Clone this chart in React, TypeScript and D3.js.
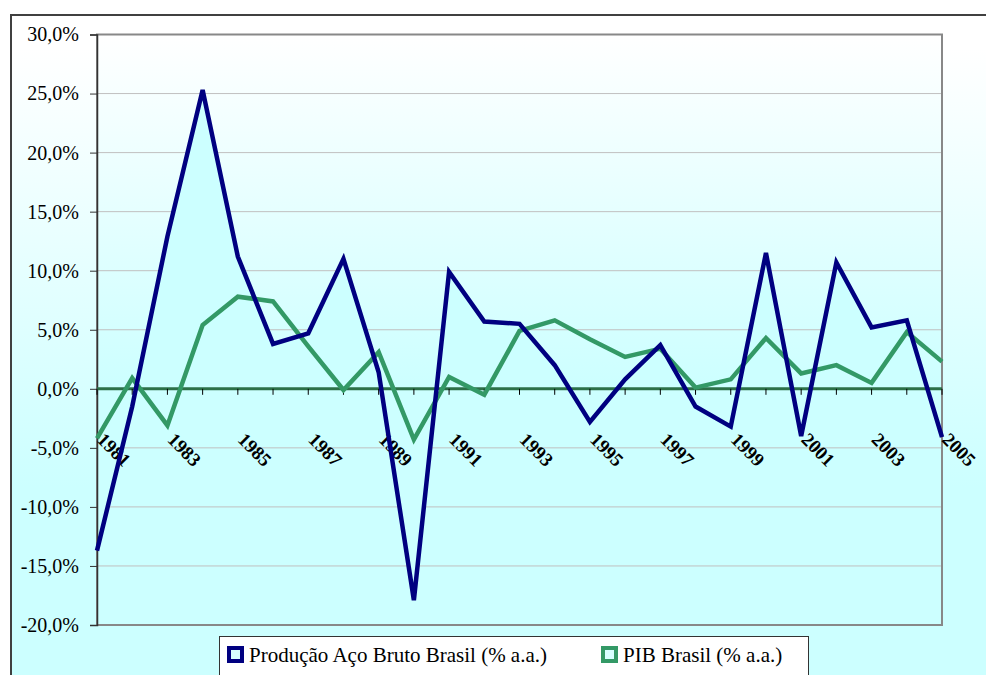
import React, { useEffect, useRef } from "react"
import * as d3 from "d3"

// categories and values
const years = ["1981", "1982", "1983", "1984", "1985", "1986", "1987", "1988", "1989", "1990",
  "1991", "1992", "1993", "1994", "1995", "1996", "1997", "1998", "1999", "2000",
  "2001", "2002", "2003", "2004", "2005"]
const producaoAco = [-13.7, -1.5, 12.9, 25.3, 11.2, 3.8, 4.7, 11.0, 1.4, -17.9,
  9.9, 5.7, 5.5, 2.0, -2.8, 0.8, 3.7, -1.5, -3.2, 11.5,
  -4.0, 10.7, 5.2, 5.8, -4.1]
const pibBrasil = [-4.2, 0.9, -3.1, 5.4, 7.8, 7.4, 3.6, -0.1, 3.1, -4.3,
  1.0, -0.5, 4.9, 5.8, 4.2, 2.7, 3.4, 0.1, 0.8, 4.3,
  1.3, 2.0, 0.5, 4.8, 2.3]
const yTicks = [-20, -15, -10, -5, 0, 5, 10, 15, 20, 25, 30]
const labelledYears = ["1981", "1983", "1985", "1987", "1989", "1991", "1993", "1995",
  "1997", "1999", "2001", "2003", "2005"]
const seriesNames = ["Produção Aço Bruto Brasil (% a.a.)", "PIB Brasil (% a.a.)"]

const width = 986
const height = 675
const plot = { left: 97, right: 942, top: 34.5, bottom: 625 }
const serif = "Liberation Serif, Times New Roman, serif"

const App = () => {
  const svgRef = useRef<SVGSVGElement>(null)

  useEffect(() => {
    const svg = d3.select(svgRef.current)
    svg.selectAll("*").remove()

    const x = d3.scalePoint<string>().domain(years).range([plot.left, plot.right])
    const y = d3.scaleLinear().domain([-20, 30]).range([plot.bottom, plot.top])
    const fmt = (v: number) => d3.format(".1f")(v).replace(".", ",").replace("−", "-") + "%"

    // gradients
    const defs = svg.append("defs")
    const gOuter = defs.append("linearGradient").attr("id", "bgOuter")
      .attr("x1", 0).attr("y1", 0).attr("x2", 0).attr("y2", 1)
    gOuter.append("stop").attr("offset", 0.05).attr("stop-color", "#ffffff")
    gOuter.append("stop").attr("offset", 0.7).attr("stop-color", "#ccffff")
    const gPlot = defs.append("linearGradient").attr("id", "bgPlot")
      .attr("x1", 0).attr("y1", 0).attr("x2", 0).attr("y2", 1)
    gPlot.append("stop").attr("offset", 0).attr("stop-color", "#ffffff")
    gPlot.append("stop").attr("offset", 0.6).attr("stop-color", "#ccffff")

    // chart area
    svg.append("rect").attr("width", width).attr("height", height).attr("fill", "#fff")
    svg.append("rect").attr("x", 11).attr("y", 15).attr("width", width).attr("height", height)
      .attr("fill", "url(#bgOuter)").attr("stroke", "#404040").attr("stroke-width", 2)

    // plot area
    svg.append("rect").attr("x", plot.left).attr("y", plot.top)
      .attr("width", plot.right - plot.left).attr("height", plot.bottom - plot.top)
      .attr("fill", "url(#bgPlot)")

    // gridlines
    svg.append("g").attr("stroke", "#c0c0c0")
      .selectAll("line").data(yTicks).join("line")
      .attr("x1", plot.left).attr("x2", plot.right)
      .attr("y1", d => y(d)).attr("y2", d => y(d))

    // area under steel production
    const area = d3.area<number>()
      .x((_, i) => x(years[i]) as number)
      .y0(y(0))
      .y1(d => y(d))
    svg.append("path").attr("d", area(producaoAco)).attr("fill", "#ccffff")

    svg.append("rect").attr("x", plot.left).attr("y", plot.top)
      .attr("width", plot.right - plot.left).attr("height", plot.bottom - plot.top)
      .attr("fill", "none").attr("stroke", "#888").attr("stroke-width", 2)

    // y axis
    svg.append("g")
      .attr("transform", `translate(${plot.left},0)`)
      .call(d3.axisLeft(y).tickValues(yTicks).tickSize(7).tickPadding(11).tickFormat(d => fmt(+d)))
      .call(g => g.selectAll("line").attr("stroke", "#333"))
      .call(g => g.select(".domain").attr("stroke", "#333").attr("stroke-width", 1.5))
      .call(g => g.selectAll("text")
        .attr("fill", "#000")
        .attr("font-family", serif)
        .attr("font-size", 20)
        .attr("dy", "0.32em"))
      .attr("font-family", serif)
      .attr("font-size", 20)

    // x axis at zero
    svg.append("line").attr("x1", plot.left).attr("x2", plot.right)
      .attr("y1", y(0)).attr("y2", y(0)).attr("stroke", "#2d7048").attr("stroke-width", 3)
    svg.append("g").attr("stroke", "#000")
      .selectAll("line").data(years).join("line")
      .attr("x1", d => x(d) as number).attr("x2", d => x(d) as number)
      .attr("y1", y(0)).attr("y2", y(0) + 6)
    svg.append("g")
      .attr("font-family", serif).attr("font-size", 19).attr("font-weight", "bold")
      .selectAll("text").data(labelledYears).join("text")
      .attr("transform", d => `translate(${(x(d) as number) - 1},${y(0) + 52}) rotate(45)`)
      .text(d => d)

    // series lines
    const line = d3.line<number>()
      .x((_, i) => x(years[i]) as number)
      .y(d => y(d))
    svg.append("path").attr("d", line(pibBrasil)).attr("fill", "none")
      .attr("stroke", "#339966").attr("stroke-width", 4.5)
    svg.append("path").attr("d", line(producaoAco)).attr("fill", "none")
      .attr("stroke", "#000080").attr("stroke-width", 4.5)

    // legend
    const legend = svg.append("g").attr("font-family", serif).attr("font-size", 21)
    legend.append("rect").attr("x", 219.5).attr("y", 636.5).attr("width", 589).attr("height", 60)
      .attr("fill", "#fff").attr("stroke", "#333")
    const items = [
      { name: seriesNames[0], color: "#000080", mx: 229, tx: 249 },
      { name: seriesNames[1], color: "#339966", mx: 603, tx: 623 },
    ]
    items.forEach(it => {
      legend.append("rect").attr("x", it.mx).attr("y", 648).attr("width", 13).attr("height", 13)
        .attr("fill", "#d8ffff").attr("stroke", it.color).attr("stroke-width", 4)
      legend.append("text").attr("x", it.tx).attr("y", 662).text(it.name)
    })
  }, [])

  return (
    <svg ref={svgRef} width={width} height={height} style={{ position: "absolute", left: 0, top: 0 }} />
  )
}

export default App
